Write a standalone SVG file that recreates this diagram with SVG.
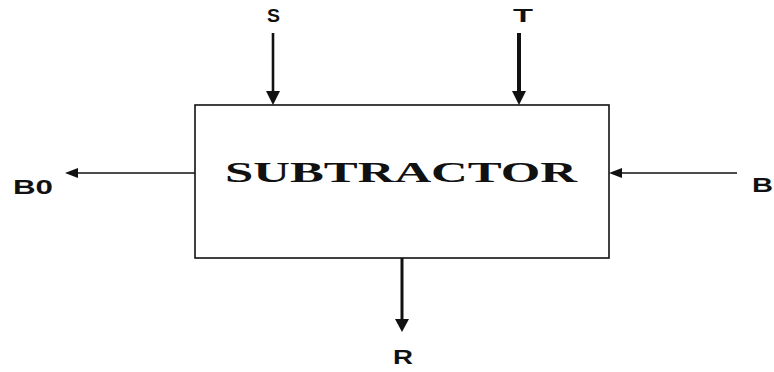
<svg xmlns="http://www.w3.org/2000/svg" width="774" height="372" viewBox="0 0 774 372">
<style>
.lbl{font-family:"Liberation Sans",Arial,sans-serif;font-weight:bold;fill:#111;}
.title{font-family:"Liberation Serif","Times New Roman",serif;font-weight:bold;fill:#111;}
.wire{stroke:#111;fill:none;}
.head{fill:#111;}
</style>
<rect width="774" height="372" fill="#ffffff"/>
<g id="subtractor">
<rect x="195" y="105" width="414" height="153" fill="#fff" stroke="#111" stroke-width="1.6"/>
<text class="title" x="225" y="182" font-size="30" textLength="352" lengthAdjust="spacingAndGlyphs">SUBTRACTOR</text>
</g>
<g id="label-S"><text class="lbl" x="267" y="22" font-size="18" textLength="13" lengthAdjust="spacingAndGlyphs">S</text></g>
<g id="label-T"><text class="lbl" x="513" y="22" font-size="18" textLength="20" lengthAdjust="spacingAndGlyphs">T</text></g>
<g id="label-B0"><text class="lbl" x="13" y="194" font-size="21" textLength="40" lengthAdjust="spacingAndGlyphs">B0</text></g>
<g id="label-B"><text class="lbl" x="752" y="192" font-size="20" textLength="21" lengthAdjust="spacingAndGlyphs">B</text></g>
<g id="label-R"><text class="lbl" x="393" y="364" font-size="21" textLength="20" lengthAdjust="spacingAndGlyphs">R</text></g>
<g id="connectors">
<line class="wire" x1="273" y1="33" x2="273" y2="92" stroke-width="2.6"/>
<polygon class="head" points="266,91 280,91 273,105"/>
<line class="wire" x1="519" y1="33" x2="519" y2="92" stroke-width="4"/>
<polygon class="head" points="512,91 526,91 519,105"/>
<line class="wire" x1="195" y1="173" x2="75" y2="173" stroke-width="1.6"/>
<polygon class="head" points="65,173 78,168 78,178"/>
<line class="wire" x1="737" y1="173" x2="618" y2="173" stroke-width="1.6"/>
<polygon class="head" points="609,173 622,168 622,178"/>
<line class="wire" x1="402" y1="258" x2="402" y2="320" stroke-width="3"/>
<polygon class="head" points="395,319 409,319 402,332"/>
</g>
</svg>
